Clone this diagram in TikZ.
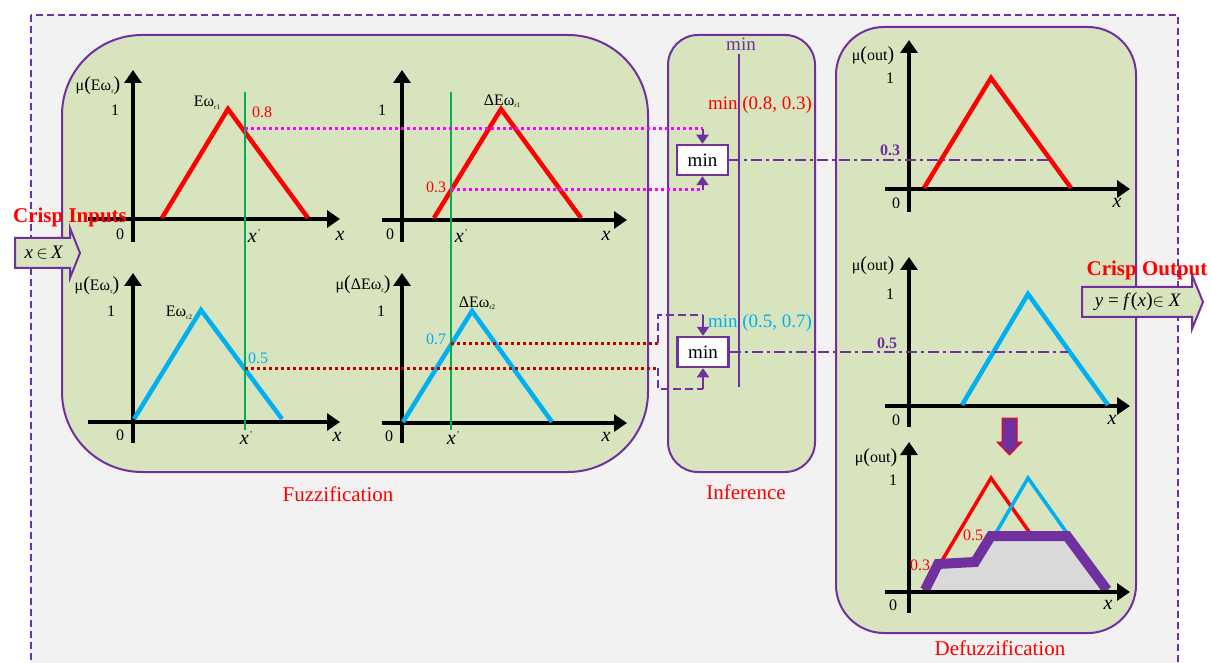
\documentclass[tikz,border=0pt]{standalone}
\usepackage{fontspec}
\setmainfont{Liberation Serif}
\usetikzlibrary{arrows.meta}
\definecolor{purp}{HTML}{7030A0}
\definecolor{pgreen}{HTML}{D7E4BD}
\definecolor{bggray}{HTML}{F2F2F2}
\definecolor{cyanx}{HTML}{00B0F0}
\definecolor{greenl}{HTML}{00B050}
\definecolor{dred}{HTML}{C00000}
\definecolor{magx}{HTML}{FF00FF}
\definecolor{grayf}{HTML}{D9D9D9}
\definecolor{redx}{HTML}{FF0000}
\newcommand{\sbx}[1]{\raisebox{-2.5pt}{\fontsize{7}{8}\selectfont #1}}
\newcommand{\bpar}[1]{{\fontsize{20}{20}\selectfont(}#1{\fontsize{20}{20}\selectfont)}}
\newcommand{\xprm}{x\raisebox{7pt}{\fontsize{9}{9}\selectfont\kern0.5pt\textit{'}}}
\begin{document}
\begin{tikzpicture}[x=1pt,y=-1pt,
  panel/.style={draw=purp, line width=2pt, fill=pgreen, inner sep=0pt},
  axis/.style={line width=4pt, -{Triangle[length=13pt,width=17pt]}},
  memb/.style={line width=4.5pt},
  lbl/.style={inner sep=0pt, font=\fontsize{16}{18}\selectfont},
  mul/.style={inner sep=0pt, font=\fontsize{16}{18}\selectfont},
  xl/.style={inner sep=0pt, font=\fontsize{20}{22}\selectfont\itshape},
  ttl/.style={inner sep=0pt, text=redx, font=\fontsize{21}{24}\selectfont},
  crisp/.style={inner sep=0pt, text=redx, font=\fontsize{21}{24}\selectfont\bfseries},
  minbox/.style={draw=purp, line width=2.5pt, fill=white, minimum width=51pt, minimum height=30pt, inner sep=0pt, font=\fontsize{19}{21}\selectfont},
  minarr/.style={draw=purp, line width=2pt, -{Triangle[length=9pt,width=12pt]}},
  magdot/.style={draw=magx, line width=3pt, dash pattern=on 3pt off 3pt},
  reddot/.style={draw=dred, line width=3pt, dash pattern=on 3pt off 3pt},
  bracket/.style={draw=purp, line width=2.2pt, dash pattern=on 8pt off 4pt},
  dashdot/.style={draw=purp, line width=2.5pt, dash pattern=on 11pt off 4pt on 3pt off 4pt},
  xline/.style={draw=greenl, line width=1.5pt},
  rlbl/.style={inner sep=0pt, font=\fontsize{19}{21}\selectfont}
]
\useasboundingbox (0,0) rectangle (1211,663);
\begin{scope}
\clip (0,0) rectangle (1211,663);
\fill[white] (0,0) rectangle (1211,663);
\draw[draw=purp, fill=bggray, line width=2pt, dash pattern=on 7pt off 4pt] (31,15) rectangle (1178,700);
\end{scope}

% panels
\node[panel, minimum width=586pt, minimum height=437pt, rounded corners=80pt] (fuzz) at (355,253.5) {};
\node[panel, minimum width=147pt, minimum height=437pt, rounded corners=30pt] (inf) at (741.5,253.5) {};
\node[panel, minimum width=300pt, minimum height=606pt, rounded corners=48pt] (defz) at (986,330) {};

% ---------- fuzzification plots ----------
% top-left
\draw[axis] (133,242) -- (133,70);
\draw[axis] (88,219) -- (340,219);
\draw[memb, redx] (162,218) -- (228,109) -- (308,218);
% top-middle
\draw[axis] (402,242) -- (402,70);
\draw[axis] (382,220) -- (627,220);
\draw[memb, redx] (434,218) -- (501,109) -- (581,218);
% bottom-left
\draw[axis] (133,443) -- (133,273);
\draw[axis] (88,422) -- (340,422);
\draw[memb, cyanx] (134,419) -- (201,310) -- (282,419);
% bottom-middle
\draw[axis] (402,443) -- (402,273);
\draw[axis] (382,423) -- (627,423);
\draw[memb, cyanx] (403,422) -- (472,311) -- (552,422);
% input lines x'
\draw[xline] (245,92) -- (245,430);
\draw[xline] (451,92) -- (451,430);

% membership points
\coordinate (pA) at (245,129);
\coordinate (pB) at (451,190);
\coordinate (pC) at (245,368);
\coordinate (pD) at (451,343);

% ---------- inference ----------
\draw[draw=purp, line width=1.5pt] (739,54) -- (739,387);
\node[minbox] (minA) at (702.5,160) {min};
\node[minbox] (minB) at (703,352) {min};
\coordinate (qA) at (702.5,129);
\coordinate (qB) at (702.5,190);
\draw[magdot] (pA) -- (qA);
\draw[magdot] (pB) -- (qB);
\draw[minarr] (qA) -- (minA.north);
\draw[minarr] (qB) -- (minA.south);
\coordinate (qC) at (658,368);
\coordinate (qD) at (658,343);
\draw[reddot] (pC) -- (qC);
\draw[reddot] (pD) -- (qD);
\draw[bracket] (qD) -- (658,315) -- (703,315);
\draw[minarr] (703,315) -- (minB.north);
\draw[bracket] (qC) -- (658,389) -- (703,389);
\draw[minarr] (703,389) -- (minB.south);
\node[inner sep=0pt, text=purp, font=\fontsize{19}{21}\selectfont] (minlbl) at (741,44) {min};
\node[inner sep=0pt, text=redx, font=\fontsize{19}{21}\selectfont] (ruleA) at (760,105) {min (0.8, 0.3)};
\node[inner sep=0pt, text=cyanx, font=\fontsize{19}{21}\selectfont] (ruleB) at (760,323) {min (0.5, 0.7)};

% ---------- defuzzification plots ----------
% R1
\draw[axis] (909,212) -- (909,40);
\draw[axis] (885,189) -- (1130,189);
\draw[memb, redx] (924,188) -- (991,78) -- (1071,188);
% R2
\draw[axis] (909,427) -- (909,257);
\draw[axis] (885,406) -- (1130,406);
\draw[memb, cyanx] (962,405) -- (1028,294) -- (1108,405);
% R3
\draw[axis] (909,613) -- (909,442);
\draw[line width=3.5pt, redx] (924,591) -- (991,478) -- (1071,591);
\draw[line width=3.5pt, cyanx] (962,591) -- (1028,478) -- (1108,591);
\fill[grayf] (926,592) -- (938,564) -- (975,562) -- (991,536) -- (1067,536) -- (1106,592) -- cycle;
\draw[draw=purp, line width=10pt] (925,590) -- (938,564) -- (975,562) -- (991,536) -- (1067,536) -- (1107,590);
\draw[axis] (885,592) -- (1130,592);

% clipped levels
\coordinate (lA) at (1052,160);
\coordinate (lB) at (1068,352);
\draw[dashdot] (minA.east) -- (lA);
\draw[dashdot] (minB.east) -- (lB);

% fat down arrow
\draw[draw=redx, fill=purp, line width=1pt] (1002,418) -- (1017,418) -- (1017,442) -- (1022,442) -- (1009.5,455) -- (997,442) -- (1002,442) -- cycle;

% ---------- labels ----------
\node[mul] (muA) at (98,86) {μ\bpar{Eω\sbx{r}}};
\node[lbl] (oneA) at (115,110) {1};
\node[lbl] (EwA) at (207,103) {Eω\sbx{r1}};
\node[lbl, text=redx] (vA) at (262,112) {0.8};
\node[lbl] (zeroA) at (120,234) {0};
\node[xl] (xpA) at (254,236) {\xprm};
\node[xl] (xA) at (340,236) {x};

\node[lbl] (oneB) at (382,110) {1};
\node[lbl] (EwB) at (502,101) {ΔEω\sbx{r1}};
\node[lbl, text=redx] (vB) at (436,187) {0.3};
\node[lbl] (zeroB) at (390,234) {0};
\node[xl] (xpB) at (461,236) {\xprm};
\node[xl] (xB) at (606,236) {x};

\node[mul] (muC) at (97,286) {μ\bpar{Eω\sbx{r}}};
\node[lbl] (oneC) at (111,311) {1};
\node[lbl] (EwC) at (179,313) {Eω\sbx{r2}};
\node[lbl, text=cyanx] (vC) at (258,358) {0.5};
\node[lbl] (zeroC) at (120,435) {0};
\node[xl] (xpC) at (246,438) {\xprm};
\node[xl] (xC) at (337,437) {x};

\node[mul] (muD) at (363,285) {μ\bpar{ΔEω\sbx{r}}};
\node[lbl] (oneD) at (381,311) {1};
\node[lbl] (EwD) at (477,303) {ΔEω\sbx{r2}};
\node[lbl, text=cyanx] (vD) at (436,339) {0.7};
\node[lbl] (zeroD) at (389,436) {0};
\node[xl] (xpD) at (453,438) {\xprm};
\node[xl] (xD) at (606,437) {x};

\node[mul] (muE) at (873,56) {μ\bpar{out}};
\node[lbl] (oneE) at (890,78) {1};
\node[lbl] (zeroE) at (896,203) {0};
\node[xl] (xE) at (1117,203) {x};
\node[lbl, text=purp, font=\fontsize{16}{18}\selectfont\bfseries] (cE) at (890,150) {0.3};

\node[mul] (muF) at (873,266) {μ\bpar{out}};
\node[lbl] (oneF) at (890,294) {1};
\node[lbl] (zeroF) at (896,420) {0};
\node[xl] (xF) at (1112,420) {x};
\node[lbl, text=purp, font=\fontsize{16}{18}\selectfont\bfseries] (cF) at (887,343) {0.5};

\node[mul] (muG) at (876,458) {μ\bpar{out}};
\node[lbl] (oneG) at (893,480) {1};
\node[lbl] (zeroG) at (893,605) {0};
\node[xl] (xG) at (1108,605) {x};
\node[lbl, text=redx] (gA) at (920,565) {0.3};
\node[lbl, text=redx] (gB) at (973,535) {0.5};

\node[ttl] (fuzzl) at (338,494) {Fuzzification};
\node[ttl] (infl) at (746,492) {Inference};
\node[ttl] (defl) at (1000,648) {Defuzzification};

% crisp input / output
\draw[draw=purp, fill=pgreen, line width=2pt] (15,238) -- (70,238) -- (70,228) -- (80,253) -- (70,278) -- (70,268) -- (15,268) -- cycle;
\node[rlbl] (inx) at (44,253) {\textit{x}\,$\in$\,\textit{X}};
\node[crisp] (crin) at (70,217) {Crisp Inputs};
\draw[draw=purp, fill=pgreen, line width=2pt] (1082,287) -- (1192,287) -- (1192,275) -- (1203,302) -- (1192,329) -- (1192,317) -- (1082,317) -- cycle;
\node[rlbl] (outy) at (1138,302) {\textit{y} = \textit{f}\bpar{\textit{x}}$\in$ \textit{X}};
\node[crisp] (crout) at (1147,270) {Crisp Output};
\end{tikzpicture}
\end{document}
